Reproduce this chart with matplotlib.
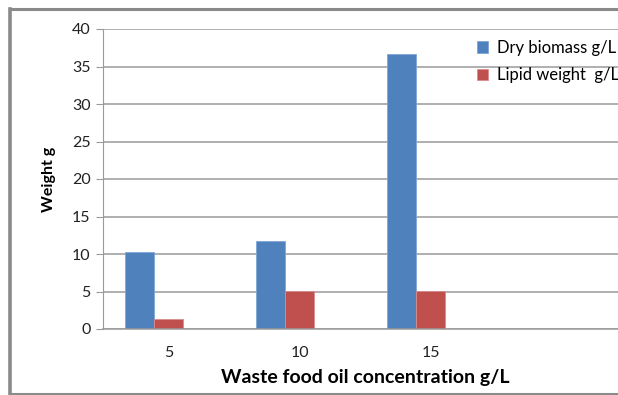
import numpy as np
import matplotlib.pyplot as plt
from matplotlib.lines import Line2D

plt.rcParams['font.family'] = ['Lato', 'DejaVu Sans']

# Oil concentration groups (a fourth, empty slot is kept on the axis)
categories = ['5', '10', '15', '']
dry_biomass = [10.3, 11.7, 36.7, np.nan]
lipid_weight = [1.3, 5.1, 5.1, np.nan]

blue = '#4F81BD'
red = '#C0504D'
grid_color = '#9a9a9a'

W, H = 618, 395
fig = plt.figure(figsize=(W / 100, H / 100), dpi=100)

# plot area: left edge at 103px, 131px per category, 0..40 spans 300px
left, right, top, bottom = 103, 103 + 4 * 131, 29, 329
ax = fig.add_axes([left / W, (H - bottom) / H, (right - left) / W, (bottom - top) / H])

x = np.arange(len(categories))
bw = 1 / 4.5
ax.bar(x - bw, dry_biomass, bw, color=blue, edgecolor='#7FA6D6', linewidth=0.6,
       label='Dry biomass g/L')
ax.bar(x, lipid_weight, bw, color=red, edgecolor='#D88C8A', linewidth=0.6,
       label='Lipid weight  g/L')

ax.set_xlim(-0.5, 3.5)
ax.set_ylim(0, 40)
ax.set_yticks(range(0, 41, 5))
ax.set_xticks(x)
ax.set_xticklabels(categories)
ax.yaxis.grid(True, color=grid_color, linewidth=1.1)
ax.set_axisbelow(True)

for s in ['top', 'right']:
    ax.spines[s].set_visible(False)
ax.spines['left'].set_color(grid_color)
ax.spines['bottom'].set_color(grid_color)
ax.spines['bottom'].set_linewidth(1.1)

ax.tick_params(axis='y', length=5, color=grid_color, labelsize=11.5, pad=4,
               labelcolor='#222222')
ax.tick_params(axis='x', length=0, labelsize=11.5, pad=12, labelcolor='#222222')

ax.set_xlabel('Waste food oil concentration g/L', fontsize=14, fontweight='bold',
              labelpad=7)
ax.set_ylabel('Weight g', fontsize=11.5, fontweight='bold', labelpad=11)

fig.legend(loc='upper left', bbox_to_anchor=(470 / W, 1 - 33 / H), frameon=False,
           fontsize=12, handlelength=0.7, handleheight=0.7, handletextpad=0.5,
           labelspacing=0.7, borderaxespad=0)

# outer chart frame (cut off on the right)
frame = '#8a8a8a'
fig.add_artist(Line2D([9.5 / W, 9.5 / W], [1 - 8.5 / H, 1.5 / H], color=frame, lw=2.6,
                      transform=fig.transFigure))
fig.add_artist(Line2D([9.5 / W, 1], [1 - 8.5 / H, 1 - 8.5 / H], color=frame, lw=2.2,
                      transform=fig.transFigure))
fig.add_artist(Line2D([9.5 / W, 1], [1.5 / H, 1.5 / H], color=frame, lw=2.2,
                      transform=fig.transFigure))

fig.savefig('out.png', dpi=100)
